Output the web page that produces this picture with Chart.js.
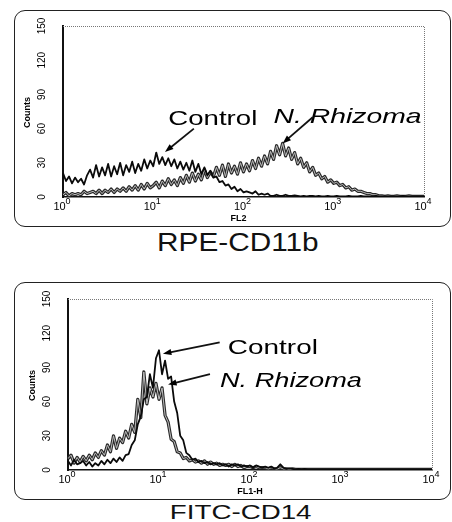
<!DOCTYPE html>
<html>
<head>
<meta charset="utf-8">
<script src="https://cdn.jsdelivr.net/npm/chart.js@4.4.0/dist/chart.umd.min.js"></script>
<style>
  html, body { margin: 0; padding: 0; background: #fff; }
  body { width: 452px; height: 522px; position: relative; overflow: hidden; font-family: "Liberation Sans", Arial, sans-serif; color: #111; }
  .frame { position: absolute; left: 14px; width: 437px; border: 1.5px solid #222; border-radius: 11px; box-sizing: border-box; }
  .plot { position: absolute; left: 14px; }
  .caption { position: absolute; width: 452px; text-align: center; white-space: nowrap; }
  .caption span { display: inline-block; }
</style>
</head>
<body>
<div class="frame" style="top:10px;height:217px"></div>
<canvas class="plot" id="chart-cd11b" width="436" height="217" style="top:10px"></canvas>
<div class="caption" style="left:12px;top:230px;font-size:25px;line-height:25px"><span style="transform:scaleX(1.19)">RPE-CD11b</span></div>

<div class="frame" style="top:282px;height:218px"></div>
<canvas class="plot" id="chart-cd14" width="436" height="218" style="top:282px"></canvas>
<div class="caption" style="left:15px;top:501px;font-size:21px;line-height:21px"><span style="transform:scaleX(1.32)">FITC-CD14</span></div>

<script>
// histogram channels: 30 per decade, 10^0 .. 10^4
const channelsPerDecade = 30;
const channels = Array.from({ length: 121 }, (_, i) => i);
const decadeExponents = ['0', '1', '2', '3', '4'];
const countTicks = [0, 30, 60, 90, 120, 150];

// RPE-CD11b (FL2)
const cd11bControl = [
    21, 14, 18, 12, 17, 13, 16, 11, 19, 24,
    17, 28, 18, 26, 19, 29, 18, 27, 20, 30,
    19, 28, 22, 31, 21, 29, 23, 33, 25, 32,
    27, 39, 29, 35, 28, 34, 27, 33, 25, 31,
    24, 30, 23, 32, 22, 29, 20, 26, 19, 23,
    17, 18, 13, 14, 10, 11, 7, 9, 5, 7,
    4, 5, 4, 3, 5, 2, 3, 2, 3, 1,
    1, 2, 1, 1, 2, 1, 1, 1.5, 1, 0.5,
    1, 0.5, 1, 1, 0.5, 1, 0.5, 0.5, 1, 0.5,
    0.5, 1, 0.5, 0.5, 0.5, 1, 0.5, 0.5, 0.5, 1,
    0.5, 0.5, 0.5, 0.5, 1, 0.5, 0.5, 0.5, 0.5, 0.5,
    0.5, 0.5, 0.5, 1, 0.5, 0.5, 0.5, 0.5, 0.5, 0.5, 0.5
];
const cd11bRhizoma = [
    2, 4, 1, 3, 2, 3, 2, 5, 3, 4,
    5, 3, 6, 3, 6, 4, 7, 4, 7, 5,
    8, 5, 9, 6, 10, 6, 11, 7, 12, 8,
    10, 13, 8, 14, 10, 16, 11, 15, 10, 17,
    12, 19, 13, 21, 14, 20, 15, 24, 17, 22,
    18, 26, 19, 28, 18, 29, 21, 27, 20, 30,
    22, 29, 23, 32, 25, 34, 27, 36, 29, 40,
    33, 45, 37, 47, 36, 43, 33, 39, 29, 34,
    26, 30, 22, 26, 19, 21, 16, 18, 13, 15,
    12, 13, 10, 11, 8, 9, 6, 7, 5, 5,
    4, 3, 3, 2, 2, 1, 1, 0.5, 1, 0.5,
    0.5, 1, 0.5, 0.5, 0.5, 1, 0.5, 0.5, 0.5, 0.5, 0.5
];

// FITC-CD14 (FL1-H)
const cd14Control = [
    8, 4, 9, 5, 6, 8, 4, 7, 3, 6,
    4, 8, 5, 9, 6, 10, 7, 11, 8, 13,
    14, 22, 26, 40, 47, 62, 64, 84, 72, 98,
    105, 84, 96, 80, 82, 60, 50, 30, 26, 15,
    13, 9, 10, 7, 8, 6, 7, 5, 6, 5,
    6, 4, 5, 3, 5, 4, 5, 3, 4, 3,
    4, 2, 4, 3, 2, 3, 2, 3, 1, 2,
    5, 2, 1, 1.5, 1, 0.5, 1, 0.5, 1, 0.5,
    0.5, 0.5, 0.5, 0.5, 0.5, 0.5, 0.5, 0.5, 0.5, 0.5,
    0.5, 0.5, 0.5, 0.5, 0.5, 0.5, 0.5, 0.5, 0.5, 0.5,
    0.5, 0.5, 0.5, 0.5, 0.5, 0.5, 0.5, 0.5, 0.5, 0.5,
    0.5, 0.5, 0.5, 0.5, 0.5, 0.5, 0.5, 0.5, 0.5, 0.5, 0.5
];
const cd14Rhizoma = [
    10, 13, 6, 11, 7, 12, 8, 13, 9, 15,
    11, 17, 13, 22, 16, 30, 19, 28, 24, 34,
    28, 40, 33, 62, 46, 86, 58, 72, 64, 76,
    62, 72, 48, 42, 27, 25, 16, 15, 10, 11,
    8, 9, 7, 8, 6, 8, 5, 7, 5, 6,
    4, 5, 4, 5, 3, 5, 3, 4, 2, 3,
    3, 2, 3, 2, 2, 2, 1, 2, 1, 1,
    2, 1, 1, 0.5, 1, 0.5, 0.5, 0.5, 0.5, 0.5,
    0.5, 0.5, 0.5, 0.5, 0.5, 0.5, 0.5, 0.5, 0.5, 0.5,
    0.5, 0.5, 0.5, 0.5, 0.5, 0.5, 0.5, 0.5, 0.5, 0.5,
    0.5, 0.5, 0.5, 0.5, 0.5, 0.5, 0.5, 0.5, 0.5, 0.5,
    0.5, 0.5, 0.5, 0.5, 0.5, 0.5, 0.5, 0.5, 0.5, 0.5, 0.5
];

// labels with arrows, placed in data units (channel, count)
const cd11bNotes = [
    { text: 'Control', italic: false, at: [35, 63], width: 89, from: [43.5, 60], to: [33.9, 39.5] },
    { text: 'N. Rhizoma', italic: true, at: [70, 65], width: 148, from: [83, 70], to: [73, 47] }
];
const cd14Notes = [
    { text: 'Control', italic: false, at: [52.7, 102], width: 90, from: [50, 112], to: [31.3, 102] },
    { text: 'N. Rhizoma', italic: true, at: [50.1, 73], width: 142, from: [46.8, 84], to: [33, 75] }
];

const FONT = '"Liberation Sans", Arial, sans-serif';

const flowDecor = {
    id: 'flowDecor',
    afterDraw(chart, args, opts) {
        const { ctx, chartArea: a } = chart;
        const x = chart.scales.x, y = chart.scales.y;
        ctx.save();

        // dotted top / right edges of the plot box
        ctx.strokeStyle = '#777';
        ctx.lineWidth = 1;
        ctx.setLineDash([1, 1]);
        ctx.beginPath();
        ctx.moveTo(a.left, a.top + 0.5);
        ctx.lineTo(a.right + 0.5, a.top + 0.5);
        ctx.lineTo(a.right + 0.5, a.bottom);
        ctx.stroke();
        ctx.setLineDash([]);

        ctx.fillStyle = '#000';

        // rotated count labels
        ctx.font = '10px ' + FONT;
        ctx.textAlign = 'center';
        ctx.textBaseline = 'middle';
        y.ticks.forEach(t => {
            ctx.save();
            ctx.translate(a.left - 21, y.getPixelForValue(t.value));
            ctx.rotate(-Math.PI / 2);
            ctx.fillText(String(t.value), 0, 0);
            ctx.restore();
        });

        // "Counts"
        ctx.save();
        ctx.font = 'bold 9px ' + FONT;
        ctx.translate(a.left - 35, (a.top + a.bottom) / 2 + 1);
        ctx.rotate(-Math.PI / 2);
        ctx.fillText('Counts', 0, 0);
        ctx.restore();

        // decade labels 10^n
        ctx.textAlign = 'left';
        ctx.textBaseline = 'alphabetic';
        decadeExponents.forEach((e, d) => {
            const px = x.getPixelForValue(d * channelsPerDecade);
            ctx.font = '11px ' + FONT;
            const w1 = ctx.measureText('10').width;
            ctx.font = '9px ' + FONT;
            const w2 = ctx.measureText(e).width;
            const left = px - (w1 + w2) / 2 - 1;
            ctx.font = '11px ' + FONT;
            ctx.fillText('10', left, a.bottom + 13);
            ctx.font = '9px ' + FONT;
            ctx.fillText(e, left + w1, a.bottom + 7);
        });

        // x axis name
        ctx.font = 'bold 9px ' + FONT;
        ctx.textAlign = 'center';
        ctx.fillText(opts.xTitle, (a.left + a.right) / 2 + opts.xTitleShift, a.bottom + 24);

        // annotations
        opts.notes.forEach(n => {
            ctx.font = (n.italic ? 'italic ' : '') + '21px ' + FONT;
            ctx.textAlign = 'left';
            const sx = n.width / ctx.measureText(n.text).width;
            ctx.save();
            ctx.translate(x.getPixelForValue(n.at[0]), y.getPixelForValue(n.at[1]));
            ctx.scale(sx, 1);
            ctx.fillText(n.text, 0, 0);
            ctx.restore();

            const x0 = x.getPixelForValue(n.from[0]), y0 = y.getPixelForValue(n.from[1]);
            const x1 = x.getPixelForValue(n.to[0]), y1 = y.getPixelForValue(n.to[1]);
            const ang = Math.atan2(y1 - y0, x1 - x0);
            const head = 9;
            ctx.strokeStyle = '#111';
            ctx.lineWidth = 1.8;
            ctx.beginPath();
            ctx.moveTo(x0, y0);
            ctx.lineTo(x1 - Math.cos(ang) * head * 0.8, y1 - Math.sin(ang) * head * 0.8);
            ctx.stroke();
            ctx.beginPath();
            ctx.moveTo(x1, y1);
            ctx.lineTo(x1 - Math.cos(ang - 0.35) * head, y1 - Math.sin(ang - 0.35) * head);
            ctx.lineTo(x1 - Math.cos(ang + 0.35) * head, y1 - Math.sin(ang + 0.35) * head);
            ctx.closePath();
            ctx.fill();
        });

        ctx.restore();
    }
};

function makeChart(canvasId, control, rhizoma, xTitle, xTitleShift, notes, box) {
    const canvas = document.getElementById(canvasId);
    return new Chart(canvas, {
        type: 'line',
        data: {
            labels: channels,
            datasets: [
                { label: 'Control', data: control, borderColor: '#0a0a0a', borderWidth: 1.8, order: 1 },
                { label: 'N. Rhizoma', data: rhizoma, borderColor: '#bdbdbd', borderWidth: 1, order: 2 },
                { label: 'N. Rhizoma outline', data: rhizoma, borderColor: '#2a2a2a', borderWidth: 3.2, order: 3 }
            ]
        },
        options: {
            responsive: false,
            animation: false,
            devicePixelRatio: 1,
            layout: { padding: { left: 0, right: box.right, top: box.top, bottom: 0 } },
            elements: {
                point: { radius: 0 },
                line: { tension: 0, fill: false, borderJoinStyle: 'round' }
            },
            plugins: {
                legend: { display: false },
                tooltip: { enabled: false },
                flowDecor: { xTitle: xTitle, xTitleShift: xTitleShift, notes: notes }
            },
            scales: {
                x: {
                    type: 'category',
                    offset: false,
                    grid: { display: false, drawTicks: false },
                    border: { display: true, color: '#111', width: 1.5 },
                    ticks: { display: false },
                    afterFit: s => { s.height = box.axisH; }
                },
                y: {
                    min: 0,
                    max: 150,
                    grid: { display: false, drawTicks: false },
                    border: { display: true, color: '#111', width: 2 },
                    ticks: { display: false },
                    afterBuildTicks: s => { s.ticks = countTicks.map(v => ({ value: v })); },
                    afterFit: s => { s.width = box.axisW; }
                }
            }
        },
        plugins: [flowDecor]
    });
}

makeChart('chart-cd11b', cd11bControl, cd11bRhizoma, 'FL2', -5, cd11bNotes,
    { axisW: 49, axisH: 30, right: 26, top: 16 });
makeChart('chart-cd14', cd14Control, cd14Rhizoma, 'FL1-H', 0, cd14Notes,
    { axisW: 54, axisH: 30, right: 18, top: 17 });
</script>
</body>
</html>
